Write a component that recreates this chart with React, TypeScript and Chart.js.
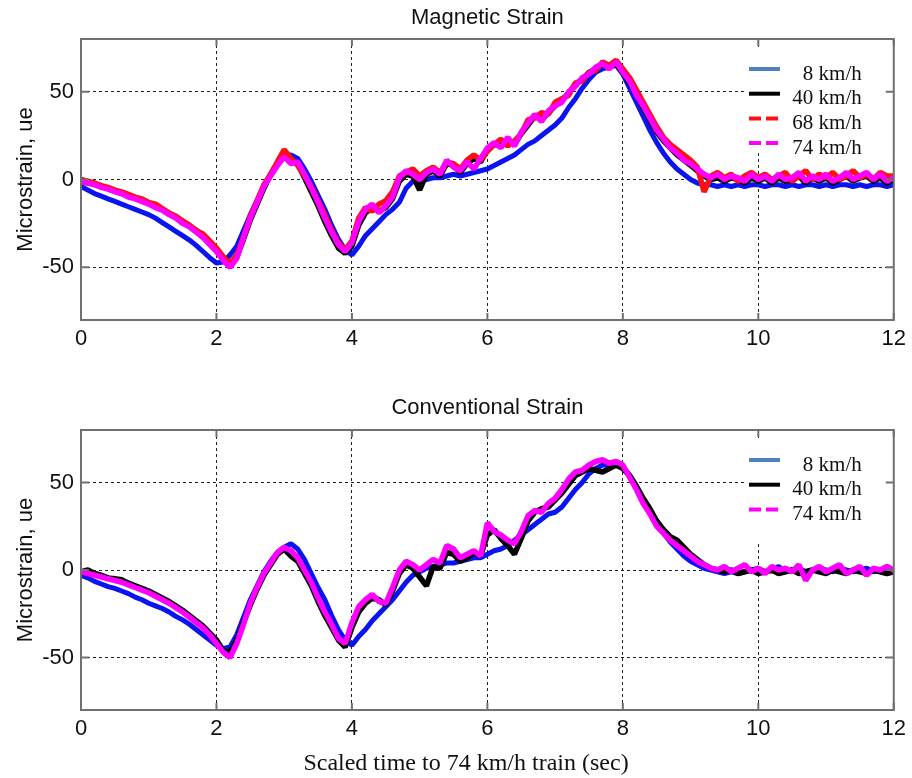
import React, { useEffect, useRef } from "react";
import { Chart, registerables } from "chart.js";

Chart.register(...registerables);

// ---------- data ----------
const TIME = [
  0, 0.1, 0.2, 0.3, 0.4, 0.5, 0.6, 0.7, 0.8, 0.9,
  1, 1.1, 1.2, 1.3, 1.4, 1.5, 1.6, 1.7, 1.8, 1.9,
  2, 2.1, 2.2, 2.3, 2.4, 2.5, 2.6, 2.7, 2.8, 2.9,
  3, 3.1, 3.2, 3.3, 3.4, 3.5, 3.6, 3.7, 3.8, 3.9,
  4, 4.1, 4.2, 4.3, 4.4, 4.5, 4.6, 4.7, 4.8, 4.9,
  5, 5.1, 5.2, 5.3, 5.4, 5.5, 5.6, 5.7, 5.8, 5.9,
  6, 6.1, 6.2, 6.3, 6.4, 6.5, 6.6, 6.7, 6.8, 6.9,
  7, 7.1, 7.2, 7.3, 7.4, 7.5, 7.6, 7.7, 7.8, 7.9,
  8, 8.1, 8.2, 8.3, 8.4, 8.5, 8.6, 8.7, 8.8, 8.9,
  9, 9.1, 9.2, 9.3, 9.4, 9.5, 9.6, 9.7, 9.8, 9.9,
  10, 10.1, 10.2, 10.3, 10.4, 10.5, 10.6, 10.7, 10.8, 10.9,
  11, 11.1, 11.2, 11.3, 11.4, 11.5, 11.6, 11.7, 11.8, 11.9,
  12,
];

const X_TICKS = [0, 2, 4, 6, 8, 10, 12];
const Y_TICKS = [-50, 0, 50];

const TITLE_MAG = "Magnetic Strain";
const TITLE_CONV = "Conventional Strain";
const Y_TITLE = "Microstrain, ue";
const X_TITLE = "Scaled time to 74 km/h train (sec)";

const SPEED_8 = "8 km/h";
const SPEED_40 = "40 km/h";
const SPEED_68 = "68 km/h";
const SPEED_74 = "74 km/h";

// Magnetic strain
const MAG_8 = [
  -4, -6, -8, -9.5, -11, -12.5, -14, -15.5, -17, -18.5,
  -20, -22, -24.5, -27, -29.5, -32, -34.5, -37.5, -41, -44.5,
  -47.5, -47, -43, -38, -29, -20, -12, -4, 3, 9,
  13, 14, 12, 6, -1, -9, -17, -26, -34, -40,
  -43, -38, -32, -28, -24, -20, -17, -13, -5, -1,
  -1, 0, 1, 1, 2, 3, 2, 3, 4, 5,
  6, 8, 10, 12, 14, 17, 20, 22, 25, 28,
  31, 35, 41, 46, 52, 57, 61, 63, 64, 65,
  60, 52, 44, 36, 28, 21, 15, 10, 6, 3,
  0, -2, -3, -3, -4, -3, -4, -3, -4, -3,
  -3, -4, -3, -3, -4, -3, -4, -3, -3, -4,
  -3, -4, -3, -3, -4, -3, -4, -3, -3, -4,
  -3,
];
const MAG_40 = [
  -1, -2, -2.5, -4, -5, -6.5, -8, -9, -10.5, -12,
  -13.5, -15, -17, -19.5, -21, -24, -26.5, -29, -32, -36,
  -40, -45, -48, -44, -34, -23, -14, -5, 3, 9,
  15, 11, 9, 1, -7, -15, -24, -32, -39, -42,
  -38, -26, -19, -16, -18, -16, -11, -1, 3, 2,
  -6, 3, 5, 2, 9, 8, 4, 9, 12, 10,
  17, 20, 19, 23, 20, 26, 31, 36, 34, 38,
  42, 45, 49, 54, 57, 61, 63, 66, 64, 66,
  61, 55, 49, 41, 34, 27, 22, 18, 14, 11,
  8, 5, 2, 0, 1, -1, 1, 0, -2, 1,
  -1, 1, -2, 1, -1, 0, 2, -2, 1, -1,
  1, -2, 0, 2, -1, 1, 2, -1, 1, -2,
  0,
];
const MAG_68 = [
  0, -1, -2, -3.5, -4.5, -6, -7, -8.5, -10, -11,
  -13, -14, -16.5, -19, -21, -23.5, -26, -29, -31, -35,
  -39, -44, -48, -43, -33, -21, -12, -3, 3, 10,
  17, 12, 8, 2, -4, -12, -20, -29, -36, -40,
  -35, -22, -16, -18, -14, -12, -7, 2, 4, 6,
  2, 5, 7, 4, 10, 9, 6, 11, 14, 11,
  16, 20, 23, 19, 22, 26, 34, 35, 38, 37,
  44, 46, 48, 55, 56, 61, 62, 67, 65, 68,
  63, 58, 51, 44, 37, 30, 24, 20, 17, 14,
  11, 7, -7, 2, 4, 1, 3, -1, 2, 4,
  1, 3, 0, 2, 4, -1, 2, 5, 0, 3,
  1, 4, 0, 2, 5, 1, 3, 0, 4, 2,
  2,
];
const MAG_74 = [
  -1, -2, -3, -4.5, -5.5, -7, -8, -10, -11, -12.5,
  -14, -16, -17.5, -20, -22, -25, -27, -30, -33, -37,
  -41, -46, -50, -45, -33, -22, -13, -4, 2, 8,
  13, 9, 10, 3, -5, -13, -22, -30, -37, -41,
  -36, -24, -17, -14, -19, -15, -10, 1, 5, 3,
  0, 4, 6, 3, 11, 7, 5, 10, 6, 12,
  18, 21, 18, 24, 19, 27, 32, 37, 33, 39,
  42, 44, 50, 53, 58, 60, 64, 66, 63, 67,
  61, 56, 48, 42, 35, 28, 23, 18, 15, 11,
  9, 6, 3, 1, 3, 0, 2, 1, -1, 3,
  0, 2, -1, 3, 0, 1, 4, -1, 2, 0,
  3, -1, 1, 4, 0, 2, 4, 0, 3, -1,
  1,
];

// Conventional strain
const CONV_8 = [
  -3, -4.5, -6.5, -8, -9.5, -10.5, -12, -13.5, -15.5, -17,
  -19, -20.5, -22, -24, -26.5, -28.5, -31, -34, -37, -40,
  -43, -45, -44, -37, -27, -17, -9, -1, 5, 10,
  13, 15, 12, 6, -2, -10, -17, -26, -34, -40,
  -43, -38, -34, -29, -25, -21, -17, -12, -7, -3,
  -1, 1, 2, 3, 4, 4, 5, 6, 7, 7,
  9, 11, 12, 14, 17, 20, 23, 26, 29, 32,
  33, 36, 41, 46, 50, 55, 58, 60, 60, 61,
  59, 54, 47, 40, 33, 26, 21, 16, 12, 8,
  5, 3, 1, 0, -1, -2, -1, -2, -1, 0,
  1, -1, 0, 2, -1, 0, 1, -1, 0, 1,
  0, -1, 1, 0, -1, 0, 1, -1, 0, 1,
  -1,
];
const CONV_40 = [
  -1, 0, -2, -3, -4.5, -5, -5.5, -7.5, -9, -10.5,
  -12, -14, -16, -18, -20.5, -23, -26, -29, -32, -36,
  -40, -46, -47, -40, -30, -20, -11, -3, 3, 9,
  12, 8, 5, -2, -9, -18, -26, -33, -40, -44,
  -33, -24, -19, -16, -17, -20, -12, -2, 3, 1,
  -4, -9, 2, 1, 10, 9, 5, 7, 10, 8,
  20, 23, 18, 14, 9, 18, 28, 33, 35, 36,
  40, 44, 49, 54, 56, 58, 57, 56, 58, 60,
  58, 54, 48, 41, 35, 28, 23, 19, 17, 13,
  9, 6, 3, 1, 0, -1, 0, -2, -1, 0,
  -2, -1, 0, -2, -1, 0, -2, -1, 0, -1,
  -2, 0, -1, -2, 0, -1, -2, 0, -1, -2,
  -1,
];
const CONV_74 = [
  -1, -2, -3, -4, -5, -6, -7, -8.5, -10, -11.5,
  -13, -15, -17, -19, -21.5, -24, -27, -30, -33, -37,
  -42, -47, -50, -42, -31, -19, -10, -2, 4, 10,
  13, 11, 7, 0, -7, -16, -24, -31, -39, -42,
  -30, -21, -17, -14, -18, -19, -10, 0, 5, 3,
  0, 3, 6, 4, 14, 12, 7, 9, 11, 8,
  27, 22, 20, 17, 15, 22, 31, 34, 33, 38,
  41, 46, 52, 56, 57, 60, 62, 63, 61, 62,
  60, 53, 46, 38, 32, 25, 21, 17, 14, 11,
  8, 5, 3, 1, 0, 2, -1, 1, 3, -1,
  1, -2, 2, 0, 1, -1, 3, -6, 0, 2,
  -1, 1, 3, -2, 0, 2, -3, 1, 0, 2,
  0,
];

// ---------- styling ----------
const SANS = "'Liberation Sans', Arial, Helvetica, sans-serif";
const SERIF = "'Liberation Serif', 'Times New Roman', Times, serif";

type Row = { label: string; data: number[]; line: string; key: string; dash: number[]; width: number };

const BLUE = "#0a14f0";
const BLUE_KEY = "#4f81bd";
const BLACK = "#000000";
const RED = "#ff1010";
const MAGENTA = "#ff00ff";

const MAG_ROWS: Row[] = [
  { label: SPEED_8, data: MAG_8, line: BLUE, key: BLUE_KEY, dash: [], width: 5 },
  { label: SPEED_40, data: MAG_40, line: BLACK, key: BLACK, dash: [], width: 5.5 },
  { label: SPEED_68, data: MAG_68, line: RED, key: RED, dash: [12, 5], width: 5.5 },
  { label: SPEED_74, data: MAG_74, line: MAGENTA, key: MAGENTA, dash: [12, 5], width: 5.5 },
];
const CONV_ROWS: Row[] = [
  { label: SPEED_8, data: CONV_8, line: BLUE, key: BLUE_KEY, dash: [], width: 5 },
  { label: SPEED_40, data: CONV_40, line: BLACK, key: BLACK, dash: [], width: 5.5 },
  { label: SPEED_74, data: CONV_74, line: MAGENTA, key: MAGENTA, dash: [12, 5], width: 5.5 },
];

function makeFramePlugin(rows: Row[]) {
  return {
    id: "frame",
    afterDatasetsDraw(chart: any) {
      const { ctx, chartArea: a } = chart;
      ctx.save();
      // in-plot legend
      const bx0 = a.left + 664;
      const by0 = a.top + 8;
      ctx.fillStyle = "#ffffff";
      ctx.fillRect(bx0, by0, a.right - 2 - bx0, 106);
      ctx.font = `21px ${SERIF}`;
      ctx.textAlign = "right";
      ctx.textBaseline = "middle";
      rows.forEach((r, i) => {
        const ty = a.top + 35 + i * 24.7;
        const ly = ty - 5;
        ctx.beginPath();
        ctx.setLineDash(r.dash);
        ctx.strokeStyle = r.key;
        ctx.lineWidth = 4;
        ctx.moveTo(a.left + 668, ly);
        ctx.lineTo(a.left + 699, ly);
        ctx.stroke();
        ctx.setLineDash([]);
        ctx.fillStyle = "#111111";
        ctx.fillText(r.label, a.right - 32, ty);
      });
      // box frame
      ctx.setLineDash([]);
      ctx.strokeStyle = "#707070";
      ctx.lineWidth = 2;
      ctx.strokeRect(a.left, a.top, a.right - a.left, a.bottom - a.top);
      // inward tick marks
      const xs = chart.scales.x;
      const ys = chart.scales.y;
      ctx.beginPath();
      X_TICKS.forEach((v) => {
        const px = xs.getPixelForValue(v);
        ctx.moveTo(px, a.top);
        ctx.lineTo(px, a.top + 7);
        ctx.moveTo(px, a.bottom);
        ctx.lineTo(px, a.bottom - 7);
      });
      Y_TICKS.forEach((v) => {
        const py = ys.getPixelForValue(v);
        ctx.moveTo(a.left, py);
        ctx.lineTo(a.left + 8, py);
        ctx.moveTo(a.right, py);
        ctx.lineTo(a.right - 8, py);
      });
      ctx.stroke();
      ctx.restore();
    },
  };
}

function buildConfig(title: string, rows: Row[], withXTitle: boolean, titleBottomPad: number): any {
  return {
    type: "line",
    data: {
      datasets: rows.map((r, i) => ({
        label: r.label,
        data: TIME.map((t, k) => ({ x: t, y: r.data[k] })),
        borderColor: r.line,
        backgroundColor: r.line,
        borderWidth: r.width,
        borderJoinStyle: "bevel",
        pointRadius: 0,
        tension: 0,
        fill: false,
        order: rows.length - 1 - i,
      })),
    },
    options: {
      animation: false,
      responsive: false,
      events: [],
      layout: { padding: { left: 34, right: 14, top: 0, bottom: 0 } },
      scales: {
        x: {
          type: "linear",
          min: 0,
          max: 12,
          afterBuildTicks: (s: any) => {
            s.ticks = X_TICKS.map((v) => ({ value: v }));
          },
          afterFit: (s: any) => {
            s.height = withXTitle ? 30 : 50;
          },
          grid: { color: "#222222", lineWidth: 1, drawTicks: false },
          border: { display: false, dash: [3, 3] },
          ticks: {
            font: { family: SANS, size: 22 },
            color: "#111111",
            padding: 6,
            maxRotation: 0,
            autoSkip: false,
          },
        },
        y: {
          type: "linear",
          min: -80,
          max: 80,
          afterBuildTicks: (s: any) => {
            s.ticks = Y_TICKS.map((v) => ({ value: v }));
          },
          afterFit: (s: any) => {
            s.width = 47;
          },
          grid: { color: "#222222", lineWidth: 1, drawTicks: false },
          border: { display: false, dash: [3, 3] },
          ticks: {
            font: { family: SANS, size: 22 },
            color: "#111111",
            padding: 7,
          },
          title: {
            display: true,
            text: Y_TITLE,
            font: { family: SANS, size: 22 },
            color: "#111111",
            padding: { top: -21, bottom: 0 },
          },
        },
      },
      plugins: {
        legend: { display: false },
        tooltip: { enabled: false },
        title: {
          display: true,
          text: title,
          fullSize: false,
          font: { family: SANS, size: 22, weight: "normal" },
          color: "#111111",
          padding: { top: 4.5, bottom: titleBottomPad },
        },
        subtitle: withXTitle
          ? {
              display: true,
              position: "bottom",
              text: X_TITLE,
              fullSize: true,
              font: { family: SERIF, size: 24, weight: "normal" },
              color: "#111111",
              padding: { top: 9.2, bottom: 0 },
            }
          : { display: false },
      },
    },
    plugins: [makeFramePlugin(rows)],
  };
}

export default function App() {
  const topRef = useRef<HTMLCanvasElement>(null);
  const botRef = useRef<HTMLCanvasElement>(null);

  useEffect(() => {
    const c1 = new Chart(topRef.current as HTMLCanvasElement, buildConfig(TITLE_MAG, MAG_ROWS, false, 8.1));
    const c2 = new Chart(botRef.current as HTMLCanvasElement, buildConfig(TITLE_CONV, CONV_ROWS, true, 9.1));
    return () => {
      c1.destroy();
      c2.destroy();
    };
  }, []);

  return (
    <div style={{ position: "absolute", left: 0, top: 0, width: 912, height: 778, background: "#ffffff" }}>
      <canvas
        ref={topRef}
        width={912}
        height={370}
        style={{ position: "absolute", left: 0, top: 0, width: 912, height: 370 }}
      />
      <canvas
        ref={botRef}
        width={912}
        height={388}
        style={{ position: "absolute", left: 0, top: 390, width: 912, height: 388 }}
      />
    </div>
  );
}
